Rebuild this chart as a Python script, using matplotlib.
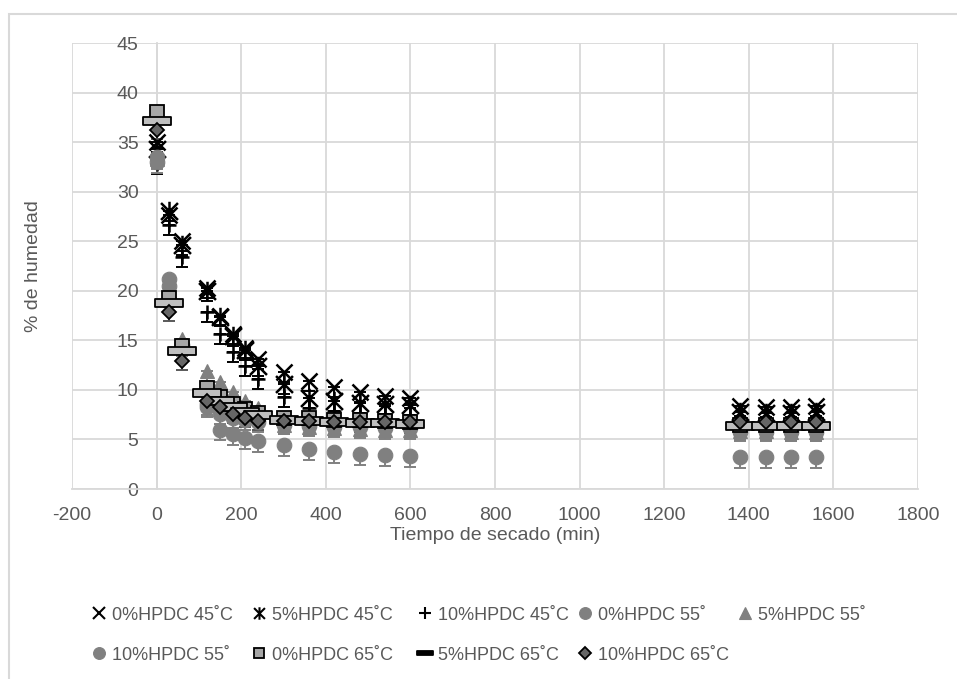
import matplotlib
matplotlib.use("Agg")
import matplotlib.pyplot as plt
from matplotlib.path import Path
from matplotlib.lines import Line2D
from matplotlib.patches import Rectangle

# === Data ===
t_min = [0, 30, 60, 120, 150, 180, 210, 240, 300, 360, 420, 480, 540, 600,
         1380, 1440, 1500, 1560]

h0_45 = [35.0, 27.6, 25.0, 20.3, 17.5, 15.6, 14.2, 13.1, 11.8, 10.9, 10.3, 9.8, 9.4, 9.2, 8.4, 8.3, 8.3, 8.4]
h5_45 = [34.3, 28.0, 24.6, 20.0, 17.4, 15.4, 14.0, 12.4, 10.6, 9.2, 8.9, 8.7, 8.6, 8.5, 7.8, 7.7, 7.7, 7.8]
h10_45 = [32.8, 26.6, 23.4, 17.9, 15.6, 13.8, 12.4, 11.1, 9.3, 8.2, 7.9, 7.7, 7.6, 7.5, 7.2, 7.1, 7.1, 7.2]
h0_55 = [33.0, 21.2, 14.5, 8.6, 6.0, 5.5, 5.1, 4.8, 4.4, 4.0, 3.7, 3.5, 3.4, 3.3, 3.2, 3.2, 3.2, 3.2]
h5_55 = [33.3, 20.0, 15.1, 11.9, 10.8, 9.8, 8.9, 8.2, 6.5, 6.3, 6.2, 6.1, 6.0, 6.0, 5.9, 5.9, 5.8, 5.8]
h10_55 = [33.5, 20.5, 14.0, 8.3, 7.6, 7.2, 7.0, 6.8, 6.5, 6.4, 6.3, 6.3, 6.2, 6.2, 5.8, 5.8, 5.8, 5.8]
h0_65 = [38.0, 19.3, 14.4, 10.2, 9.3, 8.6, 8.1, 7.7, 7.2, 7.2, 7.0, 7.0, 6.9, 6.8, 6.5, 6.5, 6.5, 6.5]
h5_65 = [37.1, 18.8, 13.9, 9.7, 8.9, 8.3, 7.8, 7.5, 7.0, 6.9, 6.8, 6.7, 6.7, 6.6, 6.4, 6.4, 6.4, 6.4]
h10_65 = [36.2, 17.9, 12.9, 8.9, 8.3, 7.6, 7.2, 6.9, 6.9, 6.9, 6.8, 6.8, 6.8, 6.8, 6.8, 6.8, 6.8, 6.8]

labels = ["0%HPDC 45˚C", "5%HPDC 45˚C", "10%HPDC 45˚C", "0%HPDC 55˚", "5%HPDC 55˚",
          "10%HPDC 55˚", "0%HPDC 65˚C", "5%HPDC 65˚C", "10%HPDC 65˚C"]
errors = [1.0, 1.0, 1.0, 1.1, 1.0, 1.0, 0.9, 0.9, 0.9]

series = [h0_45, h5_45, h10_45, h0_55, h5_55, h10_55, h0_65, h5_65, h10_65]

# === Marker shapes ===
M, L, C = Path.MOVETO, Path.LINETO, Path.CLOSEPOLY
star = Path([(-1, -1), (1, 1), (-1, 1), (1, -1), (0, -1.15), (0, 1.15)], [M, L, M, L, M, L])
dash = Path([(-1, -0.26), (1, -0.26), (1, 0.26), (-1, 0.26), (-1, -0.26)], [M, L, L, L, C])

# marker, size, face, edge, edge width, error colour
styles = [
    dict(marker="x", ms=11, mfc="black", mec="black", mew=1.8, ecol="black"),
    dict(marker=star, ms=14, mfc="none", mec="black", mew=1.8, ecol="black"),
    dict(marker="+", ms=9.5, mfc="black", mec="black", mew=1.8, ecol="black"),
    dict(marker="o", ms=10.5, mfc="#808080", mec="#808080", mew=0.8, ecol="#808080"),
    dict(marker="^", ms=9.5, mfc="#808080", mec="#808080", mew=0.8, ecol="#808080"),
    dict(marker="o", ms=10.5, mfc="#808080", mec="#808080", mew=0.8, ecol="#808080"),
    dict(marker="s", ms=10, mfc="#a6a6a6", mec="black", mew=1.3, ecol="#595959"),
    dict(marker=dash, ms=19.5, mfc="#bfbfbf", mec="black", mew=1.3, ecol="#595959"),
    dict(marker="D", ms=7, mfc="#666666", mec="black", mew=1.3, ecol="#595959"),
]
legend_ms = [8, 9, 8, 8.5, 8.5, 8.5, 7.5, 11, 6]

plt.rcParams['font.family'] = ['Liberation Sans', 'DejaVu Sans']
plt.rcParams['axes.unicode_minus'] = False
txt = "#595959"
grid_c = "#d9d9d9"

fig = plt.figure(figsize=(9.57, 6.79), dpi=100)
ax = fig.add_axes([72 / 957, 1 - 489 / 679, (918 - 72) / 957, (489 - 43) / 679])

for vals, err, st in zip(series, errors, styles):
    ax.errorbar(t_min, vals, yerr=[[err] * len(vals), [0] * len(vals)], fmt="none",
                ecolor=st["ecol"], elinewidth=1.4, capsize=4.3, capthick=1.4, zorder=3)
for vals, st in zip(series, styles):
    ax.plot(t_min, vals, linestyle="none", marker=st["marker"], ms=st["ms"],
            mfc=st["mfc"], mec=st["mec"], mew=st["mew"], zorder=4)

ax.set_xlim(-200, 1800)
ax.set_ylim(0, 45)
ax.set_xticks(range(-200, 1801, 200))
ax.set_yticks(range(0, 46, 5))
ax.grid(True, color=grid_c, linewidth=1.3)
ax.set_axisbelow(True)
for side in ["top", "right"]:
    ax.spines[side].set_visible(False)
ax.spines["left"].set_position(("data", 0))
ax.spines["left"].set_color(grid_c)
ax.spines["bottom"].set_color(grid_c)
ax.spines["left"].set_linewidth(1.3)
ax.spines["bottom"].set_linewidth(1.3)
ax.tick_params(axis="both", length=0, labelsize=14, labelcolor=txt)
ax.tick_params(axis="y", pad=13)
ax.tick_params(axis="x", pad=13)

ax.set_xlabel("Tiempo de secado (min)", fontsize=14, color=txt)
ax.xaxis.set_label_coords(0.5, -(527 - 489) / 446)
ax.set_ylabel("% de humedad", fontsize=14, color=txt)
ax.yaxis.set_label_coords(-(72 - 42) / 846, 0.5)

# === Legend, Excel style: two rows, row-wise ===
col_x = [91, 251, 417, 577, 737]
row_y = [615, 655]
for i, (lab, st) in enumerate(zip(labels, styles)):
    r, c = divmod(i, 5)
    h = Line2D([], [], linestyle="none", marker=st["marker"], ms=legend_ms[i],
               mfc=st["mfc"] if st["mfc"] != "#bfbfbf" else "black", mec=st["mec"],
               mew=min(st["mew"], 1.5))
    fig.legend(handles=[h], labels=[lab], loc="center left",
               bbox_to_anchor=(col_x[c] / 957, 1 - row_y[r] / 679),
               frameon=False, labelcolor=txt, handlelength=0.9,
               handletextpad=0.25, borderpad=0, borderaxespad=0,
               prop={"family": ["Liberation Sans", "DejaVu Sans"], "size": 13})

# chart area border
fig.add_artist(Rectangle((9 / 957, -0.1), 1.2, 1.1 - 14 / 679, transform=fig.transFigure,
                         fill=False, edgecolor=grid_c, linewidth=1.5))

fig.savefig("out.png", dpi=100)
